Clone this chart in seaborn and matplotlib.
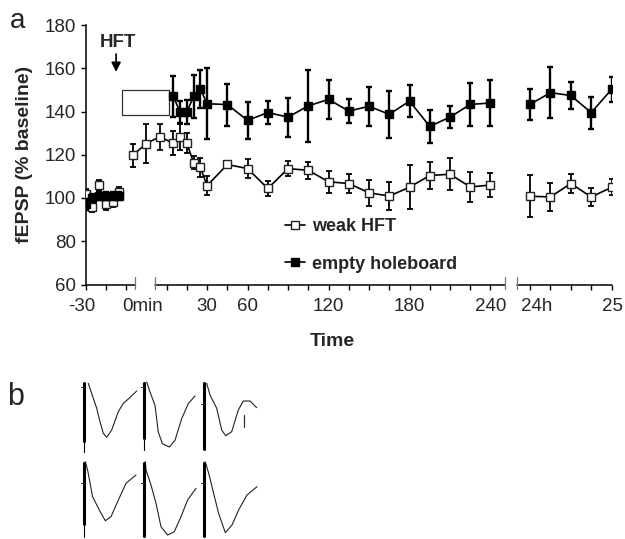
import numpy as np
import pandas as pd
import matplotlib
matplotlib.use("Agg")
import matplotlib.pyplot as plt
import seaborn as sns
from matplotlib.lines import Line2D
from matplotlib.patches import Rectangle

# ---------------- data (panel a) ----------------
# x positions are on the broken time axis (minute scale of the 0-240 min block)
base_x = [-60, -55, -50, -45, -40, -35]            # baseline -30 ... -5 min
weak_base = [102, 96, 106, 97, 98, 103]
weak_base_err = [2, 2.5, 2.5, 2.5, 2, 2]
eh_base = [97, 100, 101, 101, 101, 101]
eh_base_err = [2.5, 2, 2, 2, 2, 2]

weak_post_x = [-25, -15, -5, 5, 10, 15, 20, 25, 30, 45, 60, 75, 90, 105, 120,
               135, 150, 165, 180, 195, 210, 225, 240]
weak_post = [119.8, 125.2, 128.3, 125.3, 128.4, 125.3, 116.4, 114.2, 105.7,
             115.5, 113.6, 104.4, 113.6, 112.8, 107.5, 106.7, 102.4, 100.9,
             105.0, 110.4, 111.0, 105.1, 106.0]
weak_post_err = [5.4, 9.2, 6.1, 5.5, 6.0, 4.6, 3.0, 4.5, 4.5, 1.5, 4.4, 3.5,
                 3.5, 3.8, 5.0, 4.3, 6.0, 6.4, 10.2, 6.2, 7.5, 6.8, 5.4]

eh_post_x = [5, 10, 15, 20, 25, 30, 45, 60, 75, 90, 105, 120, 135, 150, 165,
             180, 195, 210, 225, 240]
eh_post = [147.0, 139.7, 139.7, 147.0, 150.5, 143.6, 143.2, 135.9, 139.5,
           137.4, 142.6, 145.6, 140.2, 142.4, 138.7, 144.8, 133.1, 137.4,
           143.3, 143.9]
eh_post_err = [9.5, 5.0, 5.5, 9.8, 8.7, 16.4, 9.7, 8.4, 5.5, 9.0, 16.7, 9.0,
               5.7, 9.0, 10.8, 7.4, 7.6, 5.2, 10.0, 10.6]

day_hours = [24, 24.25, 24.5, 24.75, 25]
weak_day = [100.8, 100.5, 106.7, 100.5, 104.9]
weak_day_err = [9.8, 6.3, 4.3, 4.3, 3.7]
eh_day = [143.3, 148.7, 147.4, 139.5, 150.2]
eh_day_err = [7.2, 11.7, 6.2, 7.4, 5.7]

DAY_OFFSET, DAY_SCALE = 269.3, 60.4
day_x = [DAY_OFFSET + (h - 24) * DAY_SCALE for h in day_hours]

seg_bounds = [(-60, -23.3), (-8.5, 251.1), (259.6, 329.8)]
tick_pos = [-60, -45, -30] + list(range(0, 241, 15)) + day_x
tick_labels = [(-62.9, "-30"), (-17.4, "0min"), (30, "30"), (60, "60"),
               (120, "120"), (180, "180"), (240, "240"), (274.4, "24h"),
               (330.7, "25")]
series_names = ["weak HFT", "empty holeboard"]

# ---------------- data (panel b: fEPSP traces, px offsets from artifact) ----------------
trace_dx = [
    [4, 9, 12.4, 15.7, 19, 22.4, 27.4, 34, 39, 44, 52.4],
    [2.4, 5.7, 10.7, 14, 18, 25, 30.7, 37.4, 44, 50.7],
    [2.4, 5.7, 12.4, 17.4, 21.4, 27.4, 34, 39, 45.7, 52.4],
    [1, 3.3, 8.3, 15, 21, 26.7, 33.3, 41.7, 51.7],
    [1, 1.7, 6.7, 11.7, 16.7, 23.3, 30, 36.7, 43.3, 51.7],
    [0.7, 2, 5.3, 9.3, 14.3, 21, 27.7, 34.3, 42.7, 52.7],
]
trace_dy = [
    [1.3, 16.3, 26.3, 39.7, 51.3, 55.3, 48, 29.7, 21.3, 17, 9],
    [0, 10, 23.3, 50, 61.6, 65, 58.3, 36.6, 21.6, 14],
    [1.3, 13, 26.3, 48, 53.7, 49.7, 28, 19, 19, 25.7],
    [0, 8.3, 35, 48.3, 59, 55, 40, 21.6, 13.3],
    [0, 8.3, 23.3, 41.6, 65, 73.3, 70, 55, 38.3, 26.6],
    [0, 3.3, 15, 31.6, 51.6, 71, 63.3, 48.3, 33.3, 25],
]
artifact_thick = [60, 57, 68, 63, 75, 75]
artifact_thin = [70, 68, 68, 75, 75, 75]
baseline_tick = [4.7, 4.7, 22, 21.6, 21, 21]

# ---------------- figure ----------------
sns.set_style("ticks")
plt.rcParams['font.family'] = ['Liberation Sans', 'DejaVu Sans']

W, H = 625, 539
fig = plt.figure(figsize=(W / 100, H / 100), dpi=100)
def fx(px): return px / W
def fy(py): return 1 - py / H

ax = fig.add_axes([fx(85.6), fy(284.5), (611.7 - 85.6) / W, (284.5 - 25) / H])
ax.set_xlim(-60, 329.8)
ax.set_ylim(60, 180)

def draw_series(xs, ys, es, filled, lw_err):
    ax.errorbar(xs, ys, yerr=es, fmt='none', ecolor='black', elinewidth=lw_err,
                capsize=2.2, capthick=lw_err, zorder=4 if filled else 2)
    sns.lineplot(x=xs, y=ys, ax=ax, color='black', linewidth=1.2, marker='s',
                 markersize=6.4 if filled else 6.2,
                 markerfacecolor='black' if filled else 'white',
                 markeredgecolor='black' if filled else '#222222',
                 markeredgewidth=1.0, estimator=None, sort=False,
                 errorbar=None, legend=False, zorder=5 if filled else 3)

draw_series(base_x, weak_base, weak_base_err, False, 1.3)
draw_series(weak_post_x, weak_post, weak_post_err, False, 1.3)
draw_series(day_x, weak_day, weak_day_err, False, 1.3)
draw_series(base_x, eh_base, eh_base_err, True, 1.7)
draw_series(eh_post_x, eh_post, eh_post_err, True, 1.7)
draw_series(day_x, eh_day, eh_day_err, True, 1.7)

# broken x axis
sns.despine(ax=ax, bottom=True)
ax.spines['left'].set_linewidth(1.1)
ax.spines['left'].set_color('black')
xt = ax.get_xaxis_transform()
for a, b in seg_bounds:
    ax.plot([a, b], [0, 0], transform=xt, color='black', lw=1.1, clip_on=False, zorder=6)
for bx in [seg_bounds[0][1], seg_bounds[1][0], seg_bounds[1][1], seg_bounds[2][0]]:
    ax.plot([bx, bx], [0.029, -0.017], transform=xt, color='#777777', lw=0.9,
            clip_on=False, zorder=6)

ax.set_xticks(tick_pos)
ax.set_xticklabels([])
ax.tick_params(axis='x', direction='out', length=3.3, width=1.0, color='black')
ax.set_yticks(range(60, 181, 20))
ax.tick_params(axis='y', direction='out', length=3.5, width=1.0, color='black',
               labelsize=13.5, pad=3.5)
for pos, lab in tick_labels:
    ax.text(pos, -0.052, lab, transform=xt, ha='center', va='top', fontsize=13.5,
            clip_on=False)

ax.set_ylabel("fEPSP (% baseline)", fontsize=14, fontweight='bold',
              ha='center', va='center')
ax.yaxis.set_label_coords((25 - 85.6) / 526.1, 0.5)
ax.set_xlabel("Time", fontsize=14, fontweight='bold', va='center')
ax.xaxis.set_label_coords((332 - 85.6) / 526.1, (284.5 - 341) / 259.5)

# HFT box and arrow
ax.add_patch(Rectangle((-33.2, 138.5), 35.3, 11.3, fill=False, edgecolor='#333333',
                       lw=0.9, zorder=1))
ax.text(-36.1, 172.0, "HFT", ha='center', va='center', fontsize=13.5, fontweight='bold')
ax.annotate('', xy=(-37.4, 158.3), xytext=(-37.4, 166.6),
            arrowprops=dict(arrowstyle='-|>', color='black', lw=1.2, mutation_scale=14,
                            shrinkA=0, shrinkB=0))

# legend
handles = [
    Line2D([], [], color='black', lw=1.2, marker='s', ms=6.2, mfc='white', mec='#222222', mew=1.0),
    Line2D([], [], color='black', lw=1.2, marker='s', ms=6.4, mfc='black', mec='black', mew=1.0),
]
ax.legend(handles, series_names, loc='upper left', bbox_to_anchor=(fx(285), fy(218)),
          bbox_transform=fig.transFigure, frameon=False, handlelength=1.1,
          handletextpad=0.4, labelspacing=1.15, borderpad=0, borderaxespad=0,
          prop={'weight': 'bold', 'size': 13})

# panel letters
fig.text(fx(18), fy(28), "a", fontsize=20, ha='center', va='baseline')
fig.text(fx(16), fy(405), "b", fontsize=22, ha='center', va='baseline')

# ---------------- panel b ----------------
axb = fig.add_axes([0, 0, 1, fy(370)])
axb.set_xlim(0, W)
axb.set_ylim(H, 370)
axb.axis('off')
bar_x = [84.3, 144.3, 204.3]
row_top = [382, 461.7]
for i in range(6):
    r, c = divmod(i, 3)
    x0, y0 = bar_x[c], row_top[r]
    axb.plot([x0 + d for d in trace_dx[i]], [y0 + d for d in trace_dy[i]],
             color='#222222', lw=0.8)
    axb.plot([x0, x0], [y0, y0 + artifact_thin[i]], color='black', lw=0.8)
    axb.plot([x0, x0], [y0, y0 + artifact_thick[i]], color='black', lw=2.2,
             solid_capstyle='butt')
    axb.plot([x0 - 3, x0], [y0 + baseline_tick[i]] * 2, color='#333333', lw=0.8)
# scale bar in the third trace
axb.plot([bar_x[2] + 40, bar_x[2] + 40], [row_top[0] + 33, row_top[0] + 44.7],
         color='#333333', lw=0.9)

fig.savefig("out.png", dpi=100)
